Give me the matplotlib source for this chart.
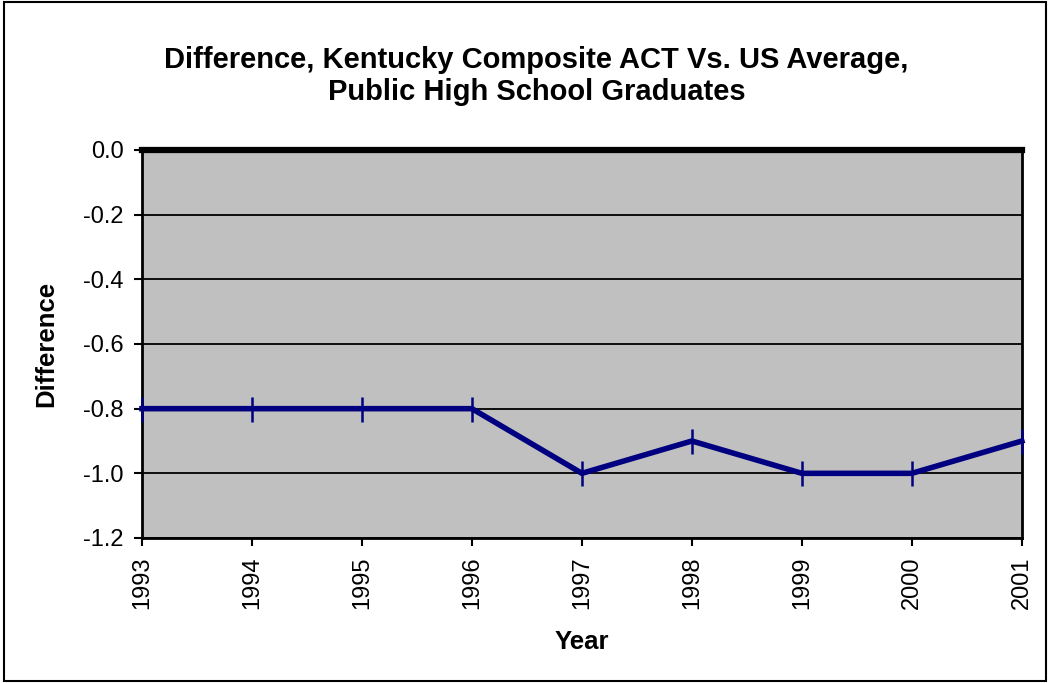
import matplotlib
matplotlib.use('Agg')
import matplotlib.pyplot as plt
from matplotlib.patches import Rectangle

years = [1993, 1994, 1995, 1996, 1997, 1998, 1999, 2000, 2001]
difference = [-0.8, -0.8, -0.8, -0.8, -1.0, -0.9, -1.0, -1.0, -0.9]
us_baseline = [0.0] * len(years)
y_ticks = [0.0, -0.2, -0.4, -0.6, -0.8, -1.0, -1.2]

plt.rcParams['font.family'] = ['Liberation Sans', 'DejaVu Sans']

fig = plt.figure(figsize=(10.5, 6.83), dpi=100)
ax = fig.add_axes([0.1352, 0.2123, 0.838, 0.5681])
ax.set_facecolor('#c0c0c0')

# outer border of chart area
fig.patches.append(Rectangle((0.004, 0.003), 0.992, 0.994, transform=fig.transFigure,
                             fill=False, edgecolor='black', linewidth=1.5))

x = list(range(len(years)))
ax.plot(x, difference, color='#000080', linewidth=4, marker='|',
        markersize=18, markeredgewidth=1.8, clip_on=False, zorder=3)
ax.plot(x, us_baseline, color='black', linewidth=4.5, marker='|',
        markersize=4, markeredgewidth=1.5, clip_on=False, zorder=4)

ax.set_xlim(0, len(years) - 1)
ax.set_ylim(-1.2, 0.0)
ax.set_yticks(y_ticks)
ax.set_yticklabels([f'{v:.1f}' for v in y_ticks], fontsize=17)
ax.set_xticks(x)
ax.set_xticklabels([str(y) for y in years], rotation=90, fontsize=17)
ax.grid(axis='y', color='black', linewidth=1.3)
ax.set_axisbelow(True)

for side in ['left', 'bottom', 'right']:
    ax.spines[side].set_linewidth(2)
    ax.spines[side].set_color('black')
ax.spines['top'].set_visible(False)
ax.tick_params(axis='both', direction='out', length=6, width=1.5, colors='black', pad=7)

ax.set_ylabel('Difference', fontsize=18.5, fontweight='bold')
ax.set_xlabel('Year', fontsize=18.5, fontweight='bold')
ax.yaxis.set_label_coords(-0.095, 0.5)
ax.xaxis.set_label_coords(0.5, -0.237)

fig.text(0.511, 0.889, 'Difference, Kentucky Composite ACT Vs. US Average,\nPublic High School Graduates',
         ha='center', va='center', fontsize=21, fontweight='bold', linespacing=1.2)

fig.savefig('out.png', dpi=100)
